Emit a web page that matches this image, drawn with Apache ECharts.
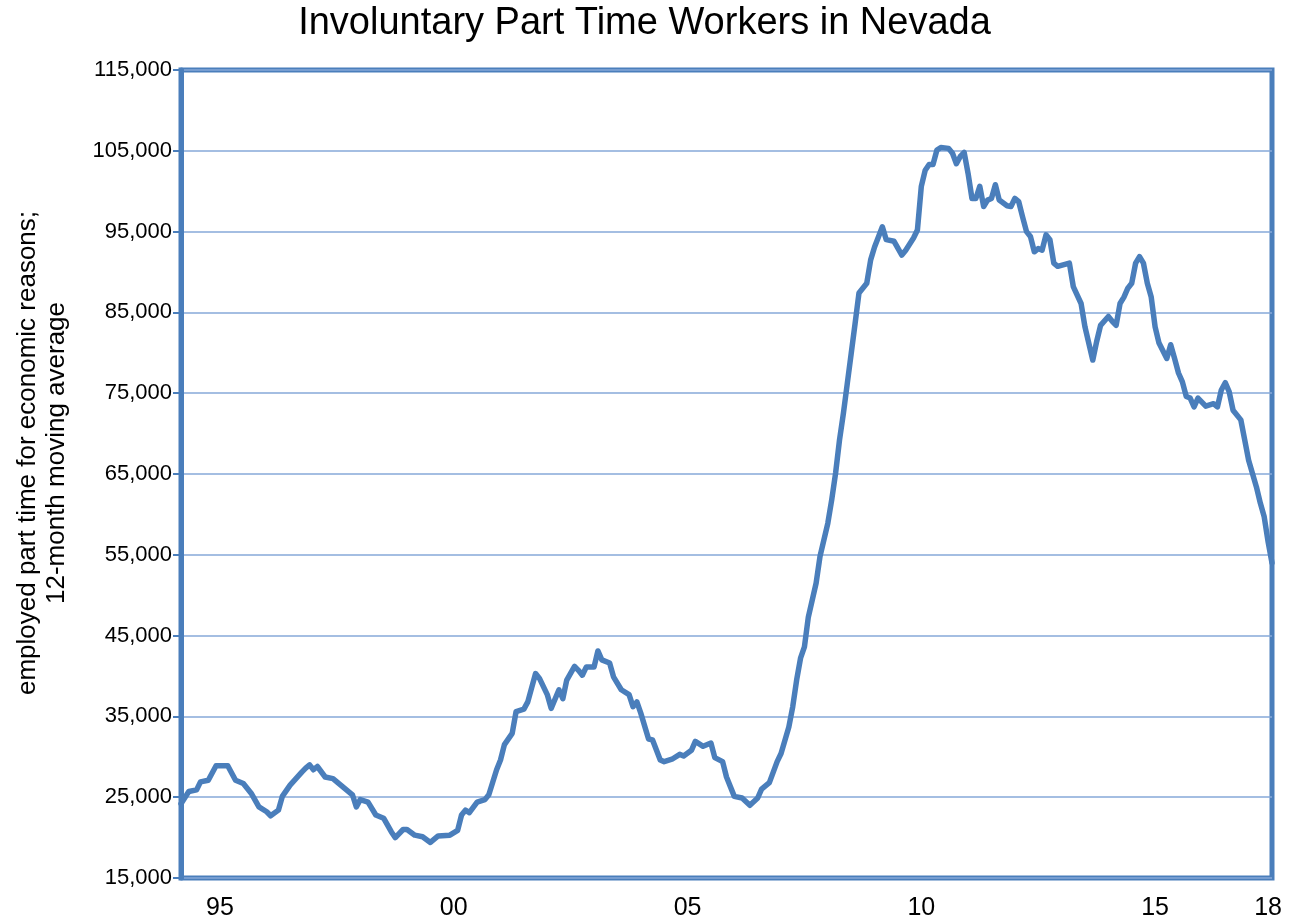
<!DOCTYPE html>
<html>
<head>
<meta charset="utf-8">
<script src="https://cdn.jsdelivr.net/npm/echarts@6/dist/echarts.min.js"></script>
<style>
  html, body { margin: 0; padding: 0; background: #fff; }
  #chart { width: 1289px; height: 924px; }
</style>
</head>
<body>
<div id="chart"></div>
<script>
// monthly categories, Sep 1994 .. Jan 2018
const firstYear = 1994, firstMonth = 9, monthCount = 281;
const months = [];
for (let k = 0; k < monthCount; k++) {
  const m = firstMonth - 1 + k;
  months.push((firstYear + Math.floor(m / 12)) + '-' + String(m % 12 + 1).padStart(2, '0'));
}

// where the year labels sit (month index) and their text
const tickMonths = [10, 70, 130, 190, 250, 279];
const tickLabels = ['95', '00', '05', '10', '15', '18'];

// readings: month index -> 12-month moving average
const monthIndex = [
  0, 2, 4, 5, 7, 9, 12, 14, 16, 18, 20, 22, 23, 25, 26, 28, 31, 32, 33, 34, 35, 37, 39, 41,
  44, 45, 46, 48, 50, 52, 54, 55, 57, 58, 60, 62, 64, 66, 69, 71, 72, 73, 74, 76, 78, 79,
  81, 82, 83, 85, 86, 88, 89, 91, 92, 94, 95, 97, 98, 99, 101, 102, 103, 104, 106, 107, 108,
  110, 111, 113, 115, 116, 117, 118, 120, 121, 123, 124, 126, 128, 129, 131, 132, 134, 136,
  137, 139, 140, 142, 144, 146, 148, 149, 151, 153, 154, 156, 157, 158, 159, 160, 161, 163,
  164, 166, 167, 168, 169, 170, 171, 172, 173, 174, 176, 177, 178, 180, 181, 183, 185, 186,
  188, 189, 190, 191, 192, 193, 194, 195, 197, 198, 199, 200, 201, 202, 203, 204, 205, 206,
  207, 208, 209, 210, 212, 213, 214, 215, 216, 217, 218, 219, 220, 221, 222, 223, 224, 225,
  228, 229, 231, 232, 234, 235, 236, 238, 239, 240, 241, 242, 243, 244, 245, 246, 247, 248,
  249, 250, 251, 253, 254, 255, 256, 257, 258, 259, 260, 261, 262, 263, 265, 266, 267, 268,
  269, 270, 272, 273, 274, 276, 277, 278, 279, 280
];
const workers = [
  24200, 25700, 25900, 26900, 27100, 28900, 28900, 27100, 26700, 25500, 23800, 23200, 22700, 23400, 25100, 26500, 28100, 28600, 29000, 28400, 28800, 27500, 27300, 26500,
  25300, 23800, 24700, 24400, 22800, 22400, 20700, 20000, 21000, 21000, 20300, 20100, 19400, 20200, 20300, 20900, 22800, 23400, 23100, 24400, 24700, 25300,
  28400, 29600, 31500, 32900, 35600, 35900, 36800, 40300, 39700, 37700, 36000, 38300, 37200, 39500, 41200, 40700, 40100, 41100, 41100, 43100, 42000,
  41600, 39900, 38300, 37700, 36200, 36800, 35400, 32200, 32100, 29600, 29400, 29700, 30300, 30100, 30800, 31900, 31300, 31700,
  29900, 29400, 27500, 25100, 24900, 24000, 24900, 26000, 26800, 29400, 30400, 33700, 36200, 39500, 42200, 43600, 47300, 51500,
  54800, 58900, 61800, 65100, 69200, 72500, 76200, 79900, 83600, 87400, 88600, 91500, 93100, 95600, 94000, 93800, 92100, 92700,
  94200, 95200, 100600, 102600, 103300, 103300, 105100, 105400, 105300, 104700, 103400, 104300, 104800, 102200, 99100, 99100, 100600, 98100,
  98900, 99100, 100800, 98900, 98200, 98100, 99100, 98700, 96800, 95000, 94400, 92500, 92900, 92700, 94600, 94000, 91100, 90700,
  91100, 88200, 86100, 83200, 79100, 81400, 83400, 84500, 83900, 83400, 86100, 86900, 88000, 88600, 91100, 91900, 91100, 88600,
  86900, 83200, 81200, 79300, 81000, 79300, 77500, 76400, 74600, 74400, 73300, 74400, 73900, 73400, 73700, 73300, 75400, 76300,
  75200, 72900, 71700, 69200, 66700, 63400, 61400, 59700, 56600, 54000
];

const blue = '#4A7EBB';
const font = 'Liberation Sans';

const chart = echarts.init(document.getElementById('chart'), null, { renderer: 'canvas' });
chart.setOption({
  animation: false,
  backgroundColor: '#fff',
  title: {
    text: 'Involuntary Part Time Workers in Nevada',
    left: 'center',
    top: 0,
    textStyle: { fontFamily: font, fontSize: 38, fontWeight: 'normal', color: '#000' }
  },
  graphic: [{
    type: 'text',
    x: 42,
    y: 453,
    rotation: Math.PI / 2,
    style: {
      text: 'employed part time for economic reasons;\n12-month moving average',
      font: '26px "Liberation Sans"',
      lineHeight: 29,
      fill: '#000',
      textAlign: 'center',
      textVerticalAlign: 'middle'
    }
  }],
  grid: {
    left: 181, right: 17, top: 70, bottom: 46,
    show: true, borderColor: blue, borderWidth: 5
  },
  xAxis: {
    type: 'category',
    data: months,
    boundaryGap: false,
    axisLine: { show: false },
    axisTick: { show: false },
    splitLine: { show: false },
    axisLabel: {
      interval: (i) => tickMonths.includes(i),
      formatter: (v, i) => tickLabels[tickMonths.indexOf(i)],
      margin: 18,
      fontFamily: font, fontSize: 25, color: '#000'
    }
  },
  yAxis: {
    type: 'value',
    min: 15000, max: 115000, interval: 10000,
    axisLine: { show: true, lineStyle: { color: blue, width: 5 } },
    axisTick: { show: true, length: 8, lineStyle: { color: blue, width: 2 } },
    splitLine: { show: true, lineStyle: { color: '#86A8D8', width: 1.5 } },
    axisLabel: {
      margin: 9,
      fontFamily: font, fontSize: 22, color: '#000',
      formatter: (v) => v.toLocaleString('en-US')
    }
  },
  series: [{
    type: 'line',
    data: monthIndex.map((m, i) => [m, workers[i]]),
    showSymbol: false,
    lineStyle: { color: blue, width: 5.5, join: 'round', cap: 'round' },
    z: 3
  }]
});
</script>
</body>
</html>
